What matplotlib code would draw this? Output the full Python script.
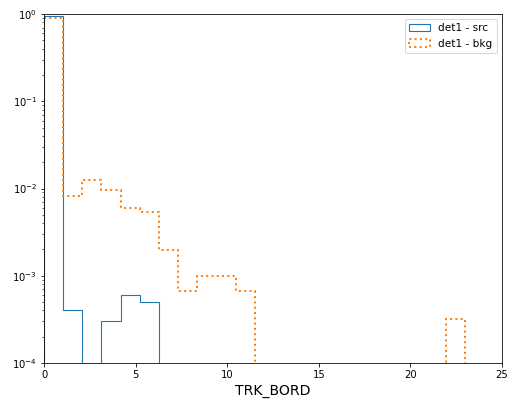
import numpy as np
import matplotlib
matplotlib.use('Agg')
import matplotlib.pyplot as plt

# 22 bins from 0 to 23, normalised (density-like) counts per bin
edges = np.linspace(0, 23, 23)
src = [0.955, 4.05e-4, 0, 3.0e-4, 6.0e-4, 5.0e-4, 0, 0, 0, 0, 0,
       0, 0, 0, 0, 0, 0, 0, 0, 0, 0, 0]
bkg = [0.909, 8.2e-3, 1.25e-2, 9.6e-3, 5.96e-3, 5.4e-3, 1.97e-3, 6.7e-4,
       9.9e-4, 9.9e-4, 6.7e-4, 0, 0, 0, 0, 0, 0, 0, 0, 0, 0, 3.2e-4]
centers = 0.5 * (edges[:-1] + edges[1:])

fig = plt.figure(figsize=(508 / 72, 404 / 72), dpi=72)
ax = fig.add_axes([44 / 508, 1 - 363 / 404, 458 / 508, 349 / 404])

ax.hist(centers, bins=edges, weights=src, histtype='step',
        color='C0', linewidth=1.1, label='det1 - src')
ax.hist(centers, bins=edges, weights=bkg, histtype='step',
        color='C1', linewidth=2.0, linestyle=':', label='det1 - bkg')

ax.set_yscale('log')
ax.set_ylim(1e-4, 1)
ax.set_xlim(0, 25)
ax.set_xlabel('TRK_BORD', fontsize=14)
ax.tick_params(labelsize=10)
ax.legend(loc='upper right', fontsize=10.5)

fig.savefig('out.png', dpi=72)
